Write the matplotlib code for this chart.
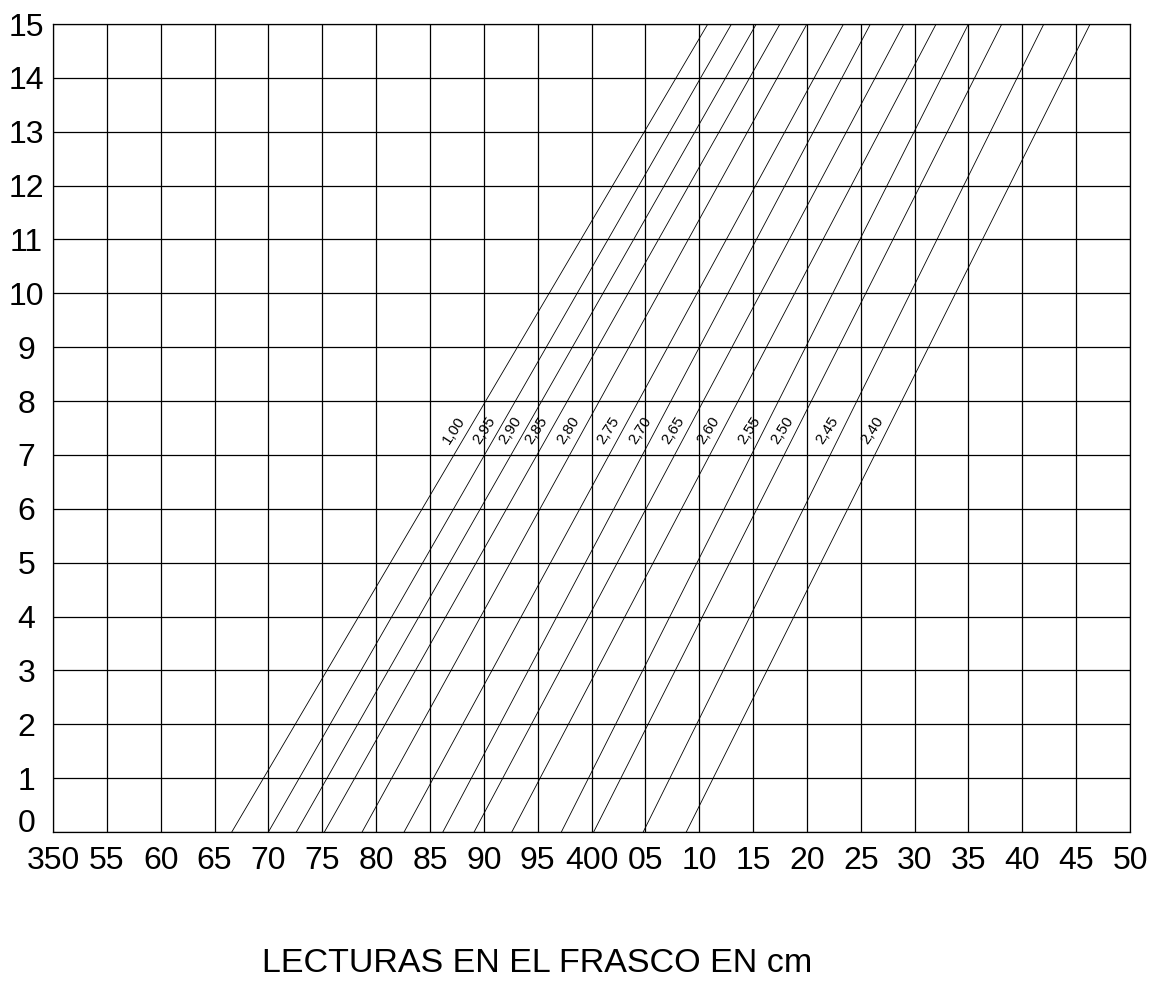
import numpy as np
import matplotlib
matplotlib.use("Agg")
import matplotlib.pyplot as plt
import matplotlib.transforms as mtransforms

plt.rcParams['font.family'] = ['Liberation Sans', 'DejaVu Sans']

# curve labels (specific gravity) and where each line meets y=0 and y=15
curve_labels = ['1,00', '2,95', '2,90', '2,85', '2,80', '2,75', '2,70',
                '2,65', '2,60', '2,55', '2,50', '2,45', '2,40']
x_at_bottom = [366.6, 370.0, 372.6, 375.2, 378.7, 382.6, 386.2,
               389.1, 392.6, 397.2, 400.2, 404.8, 408.8]
x_at_top = [410.8, 413.0, 415.3, 417.5, 420.0, 423.4, 425.9,
            429.0, 432.0, 435.0, 438.1, 442.0, 446.3]

# axis ticks
x_ticks = list(range(350, 451, 5))
x_tick_labels = ['350', '55', '60', '65', '70', '75', '80', '85', '90', '95',
                 '400', '05', '10', '15', '20', '25', '30', '35', '40', '45', '50']
y_ticks = list(range(0, 16))

y_min, y_max = 0, 15
label_y = 7.45

fig = plt.figure(figsize=(11.64, 9.85), dpi=100)
ax = fig.add_axes([53 / 1164, 1 - 832 / 985, (1130 - 53) / 1164, (832 - 24) / 985])

ax.set_xlim(350, 450)
ax.set_ylim(y_min, y_max)
ax.set_xticks(x_ticks)
ax.set_xticklabels(x_tick_labels)
ax.set_yticks(y_ticks)
ax.grid(True, color='black', linewidth=0.9)
ax.set_axisbelow(True)
for s in ax.spines.values():
    s.set_linewidth(0.9)
    s.set_color('black')

ax.tick_params(axis='x', length=0, pad=10, labelsize=23)
ax.tick_params(axis='y', length=0, pad=19, labelsize=23)
for lbl in ax.get_yticklabels():
    lbl.set_horizontalalignment('center')
# the "0" sits a bit above its grid line
ylbls = ax.get_yticklabels()
ylbls[0].set_transform(ylbls[0].get_transform() +
                       mtransforms.ScaledTranslation(0, 12 / 100, fig.dpi_scale_trans))

# diagonal lines
for lab, xb, xt in zip(curve_labels, x_at_bottom, x_at_top):
    ax.plot([xb, xt], [y_min, y_max], color='black', linewidth=0.6)
    xm = xb + (label_y - y_min) / (y_max - y_min) * (xt - xb)
    ax.annotate(lab, xy=(xm, label_y), xytext=(-10.5, 0), textcoords='offset points',
                ha='center', va='center', rotation=57, fontsize=11)

fig.text(537 / 1164, 1 - 964 / 985, 'LECTURAS EN EL FRASCO EN cm',
         ha='center', va='center', fontsize=24.5)

fig.savefig('out.png', dpi=100)
